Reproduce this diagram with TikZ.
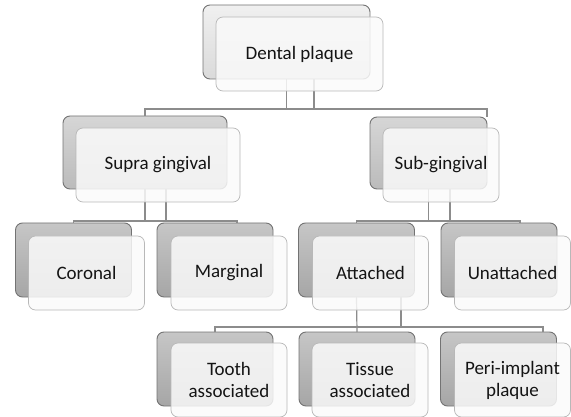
\documentclass[tikz,border=0pt]{standalone}
\usepackage{fontspec}
\setmainfont{Carlito}
\usetikzlibrary{positioning,calc}
\definecolor{lvlA}{HTML}{F0F0F0}
\definecolor{lvlAd}{HTML}{DADADA}
\definecolor{lvlB}{HTML}{D6D6D6}
\definecolor{lvlBd}{HTML}{BBBBBB}
\definecolor{lvlC}{HTML}{C6C6C6}
\definecolor{lvlCd}{HTML}{A6A6A6}

\begin{document}
\begin{tikzpicture}[x=1pt, y=-1pt,
  every node/.style={inner sep=0pt, outer sep=0pt},
  back/.style={rounded corners=7pt, draw=black!55, line width=0.9pt,
    minimum width=116pt, minimum height=74pt},
  front/.style={rounded corners=7pt, draw=black!28, line width=0.7pt,
    fill=black!2, fill opacity=0.85, text opacity=1,
    minimum width=116pt, minimum height=74pt, align=center,
    font=\fontsize{19}{22}\selectfont, text=black!92},
  lvl1/.style={top color=lvlA, bottom color=lvlAd},
  lvl2/.style={top color=lvlB, bottom color=lvlBd},
  lvl3/.style={top color=lvlC, bottom color=lvlCd},
  link/.style={draw=black!45, line width=1.2pt}]
  \useasboundingbox (0,0) rectangle (571,417);
  \coordinate (h1) at (0,109);
  \coordinate (h2) at (0,221);
  \coordinate (h3) at (0,327);

  \node[back, lvl1, minimum width=167pt] (top) at (286.5,42) {};
  \node[back, lvl2, minimum width=164pt, minimum height=73pt] (supra) at (145,152.5) {};
  \node[back, lvl2, minimum width=117pt, minimum height=72pt] (sub) at (428.5,153) {};
  \node[back, lvl3] (cor) at (73.5,260) {};
  \node[back, lvl3] (mar) at (215,260) {};
  \node[back, lvl3] (att) at (356.5,260) {};
  \node[back, lvl3] (unatt) at (499,260) {};
  \node[back, lvl3] (tooth) at (215,369) {};
  \node[back, lvl3] (tissue) at (357,369) {};
  \node[back, lvl3] (peri) at (498.5,369) {};

  \draw[link] (top.south) -- (top.south |- h1);
  \draw[link] ([xshift=27.5pt]top.south) -- ([xshift=27.5pt]top.south |- h1);
  \draw[link] (supra.north) -- (supra.north |- h1) -- (sub.north east |- h1) -- (sub.north east);

  \draw[link] (supra.south) -- (supra.south |- h2);
  \draw[link] ([xshift=21pt]supra.south) -- ([xshift=21pt]supra.south |- h2);
  \draw[link] (cor.north) -- (cor.north |- h2) -- ([xshift=22pt]mar.north |- h2) -- ([xshift=22pt]mar.north);

  \draw[link] (sub.south) -- (sub.south |- h2);
  \draw[link] ([xshift=21.5pt]sub.south) -- ([xshift=21.5pt]sub.south |- h2);
  \draw[link] (att.north) -- (att.north |- h2) -- ([xshift=21pt]unatt.north |- h2) -- ([xshift=21pt]unatt.north);

  \draw[link] (att.south) -- (tissue.north);
  \draw[link] ([xshift=44.5pt]att.south) -- ([xshift=44.5pt]att.south |- h3);
  \draw[link] (tooth.north) -- (tooth.north |- h3) -- ([xshift=44.5pt]peri.north |- h3) -- ([xshift=44.5pt]peri.north);

  \node[front, minimum width=167pt] (topf) at ($(top)+(13,12)$) {Dental plaque};
  \node[front, minimum width=164pt] (supraf) at ($(supra)+(13,12.5)$) {Supra gingival};
  \node[front, minimum width=116pt] (subf) at ($(sub)+(12.5,12)$) {Sub-gingival};
  \node[front] (corf) at ($(cor)+(13,13)$) {Coronal};
  \node[front] (marf) at ($(mar)+(14,13)$) {Marginal};
  \node[front] (attf) at ($(att)+(14,13)$) {Attached};
  \node[front] (unattf) at ($(unatt)+(13.5,13)$) {Unattached};
  \node[front] (toothf) at ($(tooth)+(14,11)$) {Tooth\\associated};
  \node[front] (tissuef) at ($(tissue)+(13,11)$) {Tissue\\associated};
  \node[front] (perif) at ($(peri)+(14,11)$) {Peri-implant\\plaque};
\end{tikzpicture}
\end{document}
